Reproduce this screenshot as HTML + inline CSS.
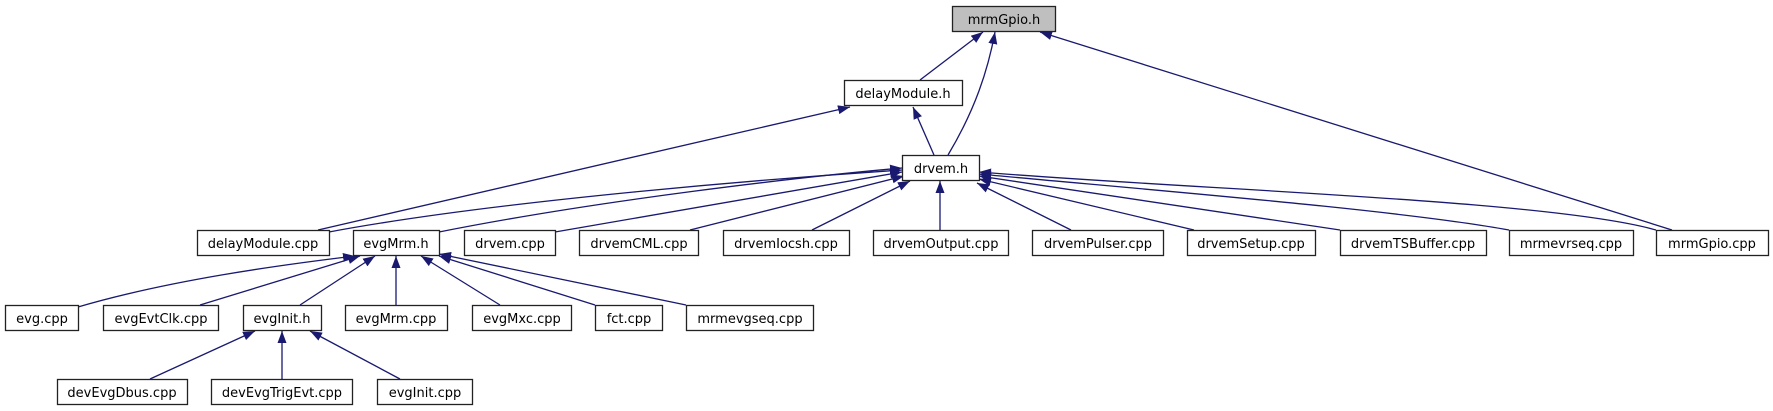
<!DOCTYPE html>
<html><head><meta charset="utf-8"><style>
html,body{margin:0;padding:0;background:#fff;}
svg{display:block;}
text{font-family:"DejaVu Sans","Liberation Sans",sans-serif;font-size:13px;fill:#000;}
</style></head><body>
<svg width="1773" height="411" viewBox="0 0 1773 411" xmlns="http://www.w3.org/2000/svg">
<defs>
<marker id="a" viewBox="0 0 12 10" refX="12" refY="5" markerWidth="12" markerHeight="10" markerUnits="userSpaceOnUse" orient="auto">
<path d="M0,0.5 L12,5 L0,9.5 z" fill="#191970"/>
</marker>
</defs>
<g stroke="#191970" stroke-width="1.3" fill="none" marker-end="url(#a)">
<line x1="920" y1="80" x2="983" y2="32"/>
<path d="M948,155 C975,110 988,70 995,32"/>
<line x1="1672" y1="230" x2="1040" y2="32"/>
<line x1="934" y1="155" x2="913" y2="107"/>
<line x1="318" y1="230" x2="850" y2="107"/>
<path d="M329,232 C500,200 780,178 902,170"/>
<path d="M439,232 C600,200 800,177 902,168"/>
<line x1="555" y1="232" x2="902" y2="172"/>
<line x1="690" y1="230" x2="904" y2="176"/>
<line x1="812" y1="230" x2="910" y2="181"/>
<line x1="940" y1="230" x2="940" y2="181"/>
<line x1="1071" y1="230" x2="977" y2="183"/>
<line x1="1194" y1="230" x2="979" y2="179"/>
<line x1="1340" y1="230" x2="979" y2="176"/>
<path d="M1509,230 C1400,210 1150,190 979,174"/>
<path d="M1656,230 C1550,200 1200,190 979,172"/>
<path d="M78,307 C170,280 280,265 355,256"/>
<line x1="200" y1="305" x2="360" y2="256"/>
<line x1="300" y1="305" x2="375" y2="256"/>
<line x1="396" y1="305" x2="396" y2="256"/>
<line x1="500" y1="305" x2="421" y2="256"/>
<line x1="595" y1="305" x2="439" y2="256"/>
<line x1="686" y1="305" x2="439" y2="254"/>
<line x1="150" y1="379" x2="255" y2="331"/>
<line x1="282" y1="379" x2="282" y2="331"/>
<line x1="400" y1="379" x2="310" y2="331"/>
</g>
<g stroke="#222" stroke-width="1.3" fill="#fff">
<rect x="952.5" y="6.5" width="103" height="25" fill="#bfbfbf"/>
<rect x="844.5" y="80.5" width="118" height="25"/>
<rect x="902.5" y="155.5" width="77" height="25"/>
<rect x="197.5" y="230.5" width="132" height="25"/>
<rect x="353.5" y="230.5" width="86" height="25"/>
<rect x="464.5" y="230.5" width="91" height="25"/>
<rect x="579.5" y="230.5" width="119" height="25"/>
<rect x="723.5" y="230.5" width="126" height="25"/>
<rect x="873.5" y="230.5" width="135" height="25"/>
<rect x="1032.5" y="230.5" width="131" height="25"/>
<rect x="1187.5" y="230.5" width="128" height="25"/>
<rect x="1340.5" y="230.5" width="146" height="25"/>
<rect x="1509.5" y="230.5" width="124" height="25"/>
<rect x="1656.5" y="230.5" width="112" height="25"/>
<rect x="5.5" y="305.5" width="73" height="25"/>
<rect x="103.5" y="305.5" width="115" height="25"/>
<rect x="243.5" y="305.5" width="78" height="25"/>
<rect x="345.5" y="305.5" width="102" height="25"/>
<rect x="472.5" y="305.5" width="99" height="25"/>
<rect x="595.5" y="305.5" width="67" height="25"/>
<rect x="686.5" y="305.5" width="127" height="25"/>
<rect x="57.5" y="379.5" width="130" height="25"/>
<rect x="211.5" y="379.5" width="141" height="25"/>
<rect x="377.5" y="379.5" width="95" height="25"/>
</g>
<g text-anchor="middle">
<text x="1004" y="24">mrmGpio.h</text>
<text x="903" y="98">delayModule.h</text>
<text x="941" y="173">drvem.h</text>
<text x="263" y="248">delayModule.cpp</text>
<text x="396" y="248">evgMrm.h</text>
<text x="510" y="248">drvem.cpp</text>
<text x="639" y="248">drvemCML.cpp</text>
<text x="786" y="248">drvemIocsh.cpp</text>
<text x="941" y="248">drvemOutput.cpp</text>
<text x="1098" y="248">drvemPulser.cpp</text>
<text x="1251" y="248">drvemSetup.cpp</text>
<text x="1413" y="248">drvemTSBuffer.cpp</text>
<text x="1571" y="248">mrmevrseq.cpp</text>
<text x="1712" y="248">mrmGpio.cpp</text>
<text x="42" y="323">evg.cpp</text>
<text x="161" y="323">evgEvtClk.cpp</text>
<text x="282" y="323">evgInit.h</text>
<text x="396" y="323">evgMrm.cpp</text>
<text x="522" y="323">evgMxc.cpp</text>
<text x="629" y="323">fct.cpp</text>
<text x="750" y="323">mrmevgseq.cpp</text>
<text x="122" y="397">devEvgDbus.cpp</text>
<text x="282" y="397">devEvgTrigEvt.cpp</text>
<text x="425" y="397">evgInit.cpp</text>
</g>
</svg>
</body></html>
